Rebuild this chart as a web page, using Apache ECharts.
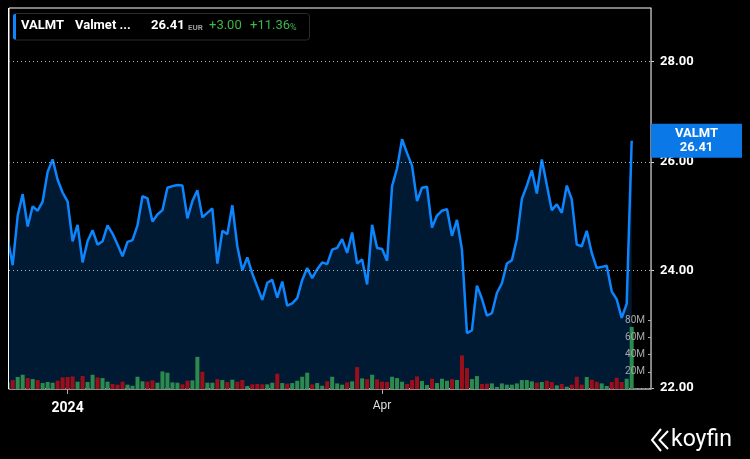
<!DOCTYPE html>
<html>
<head>
    <title>VALMT</title>
    <meta charset="utf-8" />
    <script src="https://cdn.jsdelivr.net/npm/echarts@6/dist/echarts.min.js"></script>
    <style>
        html, body { margin: 0; padding: 0; background: #000; }
        #chart { width: 750px; height: 459px; }
    </style>
</head>
<body>
    <div id="chart"></div>
    <script>
        // closing prices (EUR), one per trading day starting 2023-12-12
        var closes = [
            24.57, 24.09, 24.99, 25.39, 24.79, 25.16, 25.08, 25.25, 25.81, 26.05,
            25.66, 25.42, 25.25, 24.52, 24.82, 24.14, 24.52, 24.72, 24.46, 24.52,
            24.81, 24.66, 24.46, 24.25, 24.51, 24.54, 24.81, 25.35, 25.31, 24.88,
            25.01, 25.09, 25.51, 25.54, 25.56, 25.55, 24.94, 25.26, 25.46, 24.96,
            25.04, 25.12, 24.12, 24.71, 24.65, 25.18, 24.43, 24.00, 24.23, 23.94,
            23.71, 23.48, 23.78, 23.83, 23.52, 23.80, 23.38, 23.42, 23.51, 23.83,
            24.04, 23.86, 24.02, 24.14, 24.11, 24.37, 24.40, 24.56, 24.31, 24.68,
            24.12, 24.19, 23.75, 24.82, 24.40, 24.38, 24.17, 25.54, 25.88, 26.44,
            26.17, 25.93, 25.26, 25.51, 25.53, 24.77, 24.99, 25.08, 25.11, 24.62,
            24.91, 24.37, 22.91, 22.96, 23.73, 23.50, 23.21, 23.25, 23.60, 23.77,
            24.12, 24.18, 24.56, 25.30, 25.55, 25.84, 25.40, 26.05, 25.56, 25.09,
            25.20, 25.04, 25.55, 25.29, 24.46, 24.43, 24.71, 24.31, 24.04, 24.06,
            24.08, 23.63, 23.49, 23.17, 23.41, 26.41
        ];
        // volume, millions
        var volumes = [
            7.5, 10.4, 13.9, 16.5, 12.7, 11.5, 10.4, 6.9, 8.1, 7.3,
            9.6, 13.5, 13.9, 14.6, 8.5, 15.0, 8.1, 16.5, 13.5, 12.7,
            8.5, 5.8, 5.0, 8.5, 5.0, 3.8, 14.2, 8.9, 8.5, 10.0,
            7.3, 20.4, 18.9, 7.7, 7.3, 5.4, 9.6, 10.0, 37.3, 20.0,
            7.3, 7.3, 11.5, 10.4, 8.1, 10.8, 8.5, 10.4, 3.5, 5.4,
            5.8, 5.4, 5.4, 7.3, 17.7, 6.9, 6.2, 6.9, 9.6, 14.2,
            18.9, 5.4, 6.9, 3.8, 8.9, 14.2, 6.5, 5.0, 7.7, 8.9,
            25.4, 12.3, 11.5, 16.5, 11.2, 8.5, 8.1, 14.2, 12.7, 8.5,
            5.8, 10.4, 14.6, 9.2, 4.6, 11.9, 6.9, 11.9, 9.6, 11.5,
            10.4, 38.9, 24.2, 11.5, 15.0, 5.8, 6.2, 6.5, 2.3, 6.5,
            5.0, 5.0, 6.5, 10.4, 10.4, 8.9, 7.3, 8.1, 9.6, 8.1,
            4.2, 5.8, 2.7, 5.0, 14.2, 5.0, 13.9, 10.8, 8.5, 6.5,
            3.5, 8.1, 13.1, 8.1, 11.9, 72.0
        ];
        // Nasdaq Helsinki closing days in the period
        var holidays = ['2023-12-25', '2023-12-26', '2024-01-01', '2024-03-29', '2024-04-01', '2024-05-01', '2024-05-09'];
        var priceTicks = [22, 24, 26, 28];
        var volumeTicks = [20, 40, 60, 80];
        var monthNames = ['Jan', 'Feb', 'Mar', 'Apr', 'May', 'Jun', 'Jul', 'Aug', 'Sep', 'Oct', 'Nov', 'Dec'];

        function tradingDays(start, count) {
            var out = [];
            var d = new Date(start + 'T00:00:00Z');
            while (out.length < count) {
                var s = d.toISOString().slice(0, 10);
                var wd = d.getUTCDay();
                if (wd !== 0 && wd !== 6 && holidays.indexOf(s) < 0) out.push(s);
                d.setUTCDate(d.getUTCDate() + 1);
            }
            return out;
        }
        var dates = tradingDays('2023-12-12', closes.length);

        // first trading day of each quarter
        var quarterTicks = [];
        for (var i = 1; i < dates.length; i++) {
            var m = +dates[i].slice(5, 7), pm = +dates[i - 1].slice(5, 7);
            if (m !== pm && (m - 1) % 3 === 0) quarterTicks.push(i);
        }

        var last = closes[closes.length - 1];
        var change = last - closes[closes.length - 2];
        var pct = change / last * 100;

        var UP = '#2c8a4e', DOWN = '#9b0f1a', BLUE = '#0b86ff';
        var FONT = 'Roboto';
        var PX_PER_LN = 1353;   // log price scale
        var lnMin = Math.log(22) - 1 / PX_PER_LN;
        var lnMax = lnMin + 381 / PX_PER_LN;

        var priceData = closes.map(function (c, i) { return [i, Math.log(c)]; });
        var volumeData = volumes.map(function (v, i) {
            var up = i === 0 || closes[i] >= closes[i - 1];
            return { value: [i, v], itemStyle: { color: up ? UP : DOWN } };
        });

        var xMin = 0.26, xMax = 128.87;

        var option = {
            backgroundColor: '#000',
            animation: false,
            grid: [
                { left: 9, right: 99, top: 8, bottom: 70, show: true, borderColor: '#fff', borderWidth: 1, backgroundColor: 'transparent' },
                { left: 9, right: 99, top: 313, bottom: 70 }
            ],
            xAxis: [{
                type: 'value', gridIndex: 0, min: xMin, max: xMax,
                axisLine: { show: true, lineStyle: { color: '#8a8a8a' } },
                axisTick: { show: true, length: 5, customValues: quarterTicks, lineStyle: { color: '#aaa' } },
                splitLine: { show: false },
                axisLabel: {
                    customValues: quarterTicks, margin: 9,
                    formatter: function (v) {
                        var d = dates[v];
                        var mm = +d.slice(5, 7);
                        return mm === 1 ? '{y|' + d.slice(0, 4) + '}' : '{m|' + monthNames[mm - 1] + '}';
                    },
                    rich: {
                        y: { color: '#fff', fontSize: 14, fontWeight: 'bold', fontFamily: FONT, padding: [3, 0, 0, 0] },
                        m: { color: '#ddd', fontSize: 12, fontFamily: FONT, padding: [2, 0, 0, 0] }
                    }
                }
            }, {
                type: 'value', gridIndex: 1, min: xMin, max: xMax, show: false
            }],
            yAxis: [{
                type: 'value', gridIndex: 0, position: 'right', min: lnMin, max: lnMax, z: 3,
                axisLine: { show: true, lineStyle: { color: '#8a8a8a' } },
                axisTick: { show: true, length: 3, customValues: priceTicks.map(Math.log), lineStyle: { color: '#ccc' } },
                splitLine: { show: true, lineStyle: { color: '#b5b5b5', type: [1, 3], width: 1 } },
                axisLabel: {
                    customValues: priceTicks.map(Math.log), margin: 9,
                    color: '#fff', fontSize: 13, fontWeight: 'bold', fontFamily: FONT,
                    formatter: function (v) { return Math.exp(v).toFixed(2); }
                }
            }, {
                type: 'value', gridIndex: 1, position: 'right', min: 0, max: 76 / 0.8625, z: 5,
                axisLine: { show: true, lineStyle: { color: '#8a8a8a' } },
                axisTick: { show: true, inside: true, length: 3, customValues: volumeTicks, lineStyle: { color: '#aaa' } },
                splitLine: { show: false },
                axisLabel: {
                    inside: true, customValues: volumeTicks, margin: 6,
                    color: '#a8a8a8', fontSize: 10, fontFamily: FONT,
                    formatter: function (v) { return v + 'M'; }
                }
            }],
            series: [{
                name: 'VALMT',
                type: 'line',
                xAxisIndex: 0, yAxisIndex: 0,
                z: 2,
                data: priceData,
                showSymbol: false,
                lineStyle: { color: BLUE, width: 2.5 },
                areaStyle: { color: '#011a33', origin: 'start', opacity: 1 }
            }, {
                name: 'Volume',
                type: 'bar',
                xAxisIndex: 1, yAxisIndex: 1,
                z: 4,
                clip: true,
                barWidth: 4,
                data: volumeData
            }],
            graphic: [
                // mask whatever spills left of the plot, then redraw the frame edge
                { type: 'rect', shape: { x: 0, y: 8, width: 8, height: 387 }, style: { fill: '#000' }, z: 10 },
                { type: 'line', shape: { x1: 8.5, y1: 8, x2: 8.5, y2: 389 }, style: { stroke: '#fff', lineWidth: 1 }, z: 11 },
                { type: 'rect', shape: { x: 13.5, y: 13.5, width: 296, height: 26.5, r: 3 }, style: { fill: '#000', stroke: '#2b2b2b', lineWidth: 1 }, z: 10 },
                { type: 'rect', shape: { x: 13, y: 14, width: 3, height: 25.5, r: [2, 0, 0, 2] }, style: { fill: BLUE }, z: 11 },
                { type: 'text', x: 21, y: 26, z: 11, style: { text: 'VALMT', fill: '#fff', font: 'bold 13px ' + FONT, textVerticalAlign: 'middle' } },
                { type: 'text', x: 75, y: 26, z: 11, style: { text: 'Valmet ...', fill: '#fff', font: 'bold 13px ' + FONT, textVerticalAlign: 'middle' } },
                { type: 'text', x: 151, y: 26, z: 11, style: { text: last.toFixed(2), fill: '#fff', font: 'bold 13px ' + FONT, textVerticalAlign: 'middle' } },
                { type: 'text', x: 188, y: 28, z: 11, style: { text: 'EUR', fill: '#9a9a9a', font: 'bold 8px ' + FONT, textVerticalAlign: 'middle' } },
                { type: 'text', x: 209, y: 26, z: 11, style: { text: '+' + change.toFixed(2), fill: '#3db64a', font: '13px ' + FONT, textVerticalAlign: 'middle' } },
                {
                    type: 'text', x: 250, y: 26, z: 11,
                    style: {
                        text: '{a|+' + pct.toFixed(2) + '}{b|%}', textVerticalAlign: 'middle',
                        rich: { a: { fill: '#3db64a', fontSize: 13, fontFamily: FONT }, b: { fill: '#3db64a', fontSize: 9, fontFamily: FONT, padding: [3, 0, 0, 0] } }
                    }
                },
                { type: 'polyline', shape: { points: [[661, 429], [652, 440], [661, 451]] }, style: { stroke: '#fff', lineWidth: 2, fill: null } },
                { type: 'polyline', shape: { points: [[668, 431], [659.5, 440], [668, 449]] }, style: { stroke: '#fff', lineWidth: 2, fill: null } },
                { type: 'text', x: 671, y: 440, style: { text: 'koyfin', fill: '#fff', font: '23px ' + FONT, textVerticalAlign: 'middle' } }
            ]
        };

        var chart = echarts.init(document.getElementById('chart'));
        chart.setOption(option);

        // last-price tag on the right axis, placed through the price scale
        var tagY = chart.convertToPixel({ yAxisIndex: 0 }, Math.log(last));
        var tagX = chart.convertToPixel({ xAxisIndex: 0 }, xMax);
        chart.setOption({
            graphic: option.graphic.concat([
                { type: 'rect', z: 12, shape: { x: tagX, y: tagY - 17, width: 91, height: 34 }, style: { fill: '#0a78e6' } },
                {
                    type: 'text', z: 13, x: tagX + 45.5, y: tagY,
                    style: { text: 'VALMT\n' + last.toFixed(2), fill: '#fff', font: 'bold 13px ' + FONT, lineHeight: 14, textAlign: 'center', textVerticalAlign: 'middle' }
                }
            ])
        });
    </script>
</body>
</html>
